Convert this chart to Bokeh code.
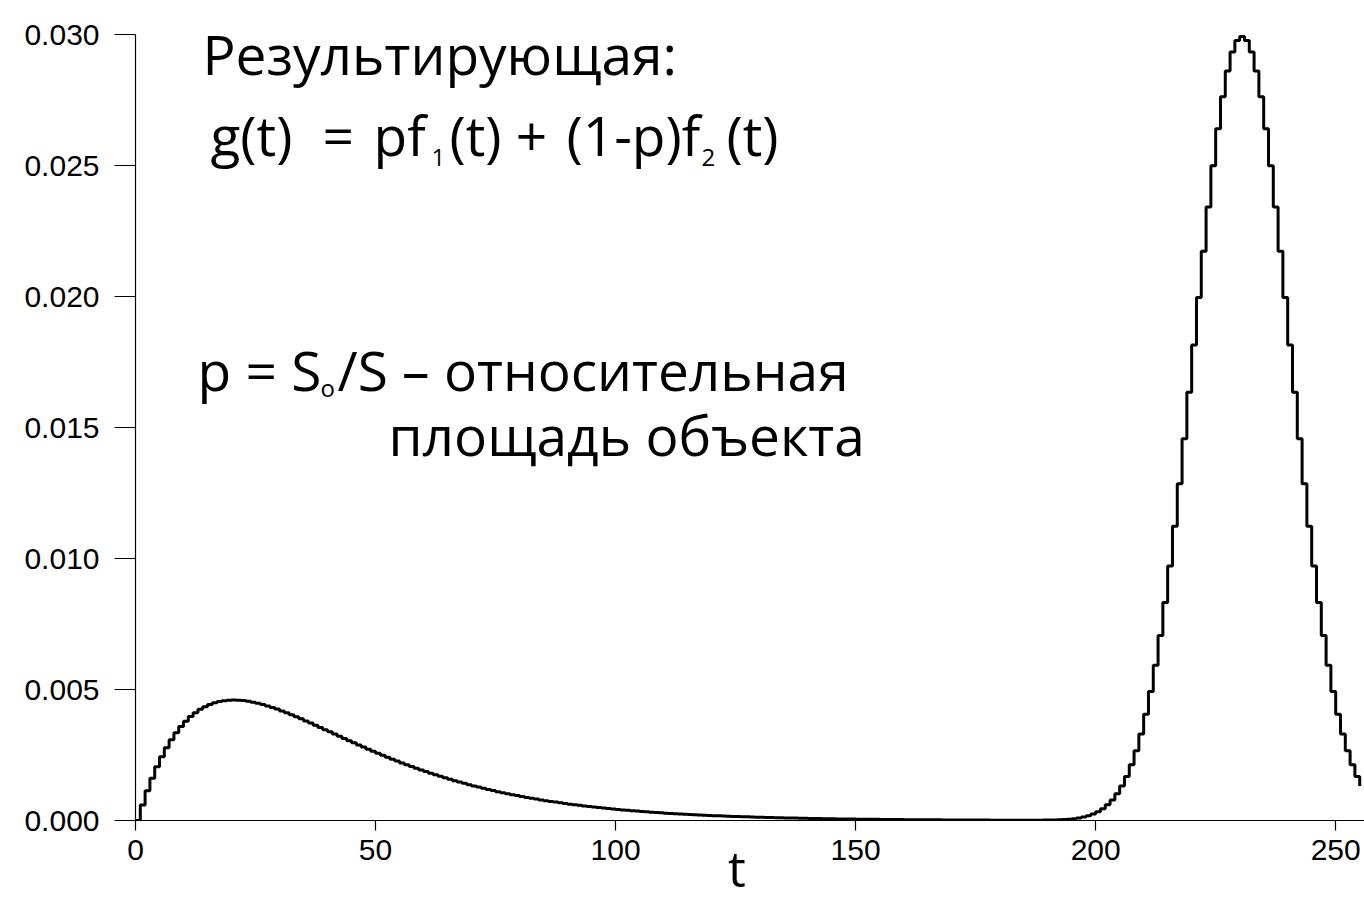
from bokeh.plotting import figure
from bokeh.models import Range1d, FixedTicker, NumeralTickFormatter, Label
from bokeh.embed import file_html
from bokeh.resources import INLINE

# ---- data: g(t) histogram values for t = 0..255 ----
t_values = list(range(256))

g_part1 = [  # t = 0..63
    0.0, 0.000594, 0.001131, 0.001614, 0.002047, 0.002434, 0.002778, 0.003083,
    0.003352, 0.003587, 0.003791, 0.003967, 0.004116, 0.004242, 0.004345, 0.004428,
    0.004493, 0.004541, 0.004574, 0.004593, 0.004599, 0.004593, 0.004577, 0.004552,
    0.004518, 0.004477, 0.004429, 0.004375, 0.004316, 0.004252, 0.004184, 0.004112,
    0.004038, 0.003961, 0.003882, 0.003801, 0.003719, 0.003636, 0.003552, 0.003468,
    0.003383, 0.003299, 0.003215, 0.003130, 0.003047, 0.002964, 0.002882, 0.002802,
    0.002722, 0.002643, 0.002565, 0.002489, 0.002414, 0.002340, 0.002268, 0.002198,
    0.002128, 0.002061, 0.001994, 0.001930, 0.001867, 0.001806, 0.001746, 0.001687,
]
g_part2 = [  # t = 64..127
    0.001630, 0.001575, 0.001521, 0.001469, 0.001418, 0.001369, 0.001321, 0.001275,
    0.001230, 0.001186, 0.001143, 0.001102, 0.001063, 0.001024, 0.000987, 0.000951,
    0.000916, 0.000882, 0.000849, 0.000818, 0.000787, 0.000758, 0.000729, 0.000702,
    0.000675, 0.000650, 0.000625, 0.000601, 0.000578, 0.000556, 0.000534, 0.000514,
    0.000494, 0.000475, 0.000456, 0.000438, 0.000421, 0.000405, 0.000389, 0.000373,
    0.000359, 0.000344, 0.000331, 0.000318, 0.000305, 0.000293, 0.000281, 0.000270,
    0.000259, 0.000248, 0.000238, 0.000229, 0.000220, 0.000211, 0.000202, 0.000194,
    0.000186, 0.000178, 0.000171, 0.000164, 0.000157, 0.000151, 0.000145, 0.000139,
]
g_part3 = [  # t = 128..191
    0.000133, 0.000127, 0.000122, 0.000117, 0.000112, 0.000108, 0.000103, 0.000099,
    0.000095, 0.000091, 0.000087, 0.000083, 0.000080, 0.000076, 0.000073, 0.000070,
    0.000067, 0.000064, 0.000062, 0.000059, 0.000057, 0.000054, 0.000052, 0.000050,
    0.000047, 0.000045, 0.000043, 0.000041, 0.000039, 0.000038, 0.000036, 0.000034,
    0.000033, 0.000032, 0.000030, 0.000029, 0.000028, 0.000026, 0.000025, 0.000024,
    0.000023, 0.000022, 0.000021, 0.000020, 0.000019, 0.000018, 0.000017, 0.000016,
    0.000015, 0.000015, 0.000014, 0.000013, 0.000013, 0.000013, 0.000012, 0.000013,
    0.000012, 0.000011, 0.000012, 0.000012, 0.000013, 0.000015, 0.000018, 0.000023,
]
g_part4 = [  # t = 192..255
    0.000029, 0.000039, 0.000052, 0.000071, 0.000098, 0.000135, 0.000184, 0.000250,
    0.000337, 0.000450, 0.000598, 0.000786, 0.001022, 0.001318, 0.001682, 0.002127,
    0.002663, 0.003302, 0.004052, 0.004924, 0.005924, 0.007057, 0.008322, 0.009717,
    0.011232, 0.012855, 0.014567, 0.016341, 0.018150, 0.019959, 0.021729, 0.023420,
    0.024993, 0.026406, 0.027622, 0.028606, 0.029330, 0.029773, 0.029922, 0.029773,
    0.029330, 0.028606, 0.027622, 0.026406, 0.024993, 0.023420, 0.021729, 0.019959,
    0.018150, 0.016341, 0.014567, 0.012855, 0.011232, 0.009717, 0.008322, 0.007057,
    0.005924, 0.004924, 0.004052, 0.003302, 0.002663, 0.002127, 0.001682, 0.001318,
]
g_values = g_part1 + g_part2 + g_part3 + g_part4

x_ticks = [0, 50, 100, 150, 200, 250]
y_ticks = [0.0, 0.005, 0.010, 0.015, 0.020, 0.025, 0.030]

# ---- layout ----
W, H = 1364, 904
LEFT, TOP, BOTTOM, RIGHT = 135, 34, 84, 0
X0, X1 = 0, 256
Y0, Y1 = 0.0, 0.030

p = figure(width=W, height=H, output_backend="svg", toolbar_location=None,
           x_range=Range1d(X0, X1), y_range=Range1d(Y0, Y1),
           min_border_left=LEFT, min_border_top=TOP,
           min_border_bottom=BOTTOM, min_border_right=RIGHT)
p.outline_line_color = None
p.xgrid.visible = False
p.ygrid.visible = False
p.background_fill_color = "white"
p.border_fill_color = "white"

p.step(t_values, g_values, mode="after", line_color="black", line_width=3)

for ax in (p.xaxis[0], p.yaxis[0]):
    ax.axis_line_color = "black"
    ax.axis_line_width = 1.2
    ax.major_tick_line_color = "black"
    ax.major_tick_line_width = 1.2
    ax.minor_tick_line_color = None
    ax.major_tick_in = 0
    ax.major_label_text_font = "Liberation Sans"
    ax.major_label_text_font_size = "30px"
    ax.major_label_text_color = "black"

FONT = "Open Sans"

xa = p.xaxis[0]
xa.ticker = FixedTicker(ticks=x_ticks)
xa.major_tick_out = 10
xa.major_label_standoff = 9
# axis label "t" (trailing no-break spaces shift its centre slightly left)
xa.axis_label = "t\u00a0\u00a0"
xa.axis_label_text_font = FONT
xa.axis_label_text_font_style = "normal"
xa.axis_label_text_font_size = "50px"
xa.axis_label_text_color = "black"
xa.axis_label_text_line_height = 0.6
xa.axis_label_standoff = -29

ya = p.yaxis[0]
ya.ticker = FixedTicker(ticks=y_ticks)
ya.formatter = NumeralTickFormatter(format="0.000")
ya.major_tick_out = 21
ya.major_label_standoff = 15

# ---- text annotations (positions given in page pixels, converted to data) ----
fw = (W - LEFT - RIGHT) / (X1 - X0)
fh = (H - TOP - BOTTOM) / (Y1 - Y0)


def dx(px):
    return X0 + (px - LEFT) / fw


def dy(py):
    return Y0 + (H - BOTTOM - py) / fh


BIG = 55
SMALL = 24


def put(text, px, py, size=BIG):
    # empirical shift so that the glyph baseline lands on py
    shift = 0.4 * size
    p.add_layout(Label(x=dx(px), y=dy(py - shift), text=text, text_font=FONT,
                       text_font_size=f"{size}px", text_color="black",
                       text_align="left", text_baseline="alphabetic"))


put("Результирующая:", 202, 75)
put("g(t)", 210, 156)
put("=", 322, 156)
put("pf", 373, 156)
put("1", 431, 167, SMALL)
put("(t) +", 449, 156)
put("(1-p)f", 566, 156)
put("2", 701, 167, SMALL)
put("(t)", 726, 156)
put("p = S", 197, 391)
put("o", 320, 397, SMALL)
put("/S – относительная", 337, 391)
put("площадь объекта", 388, 456)

open("out.html", "w").write(file_html(p, INLINE))
